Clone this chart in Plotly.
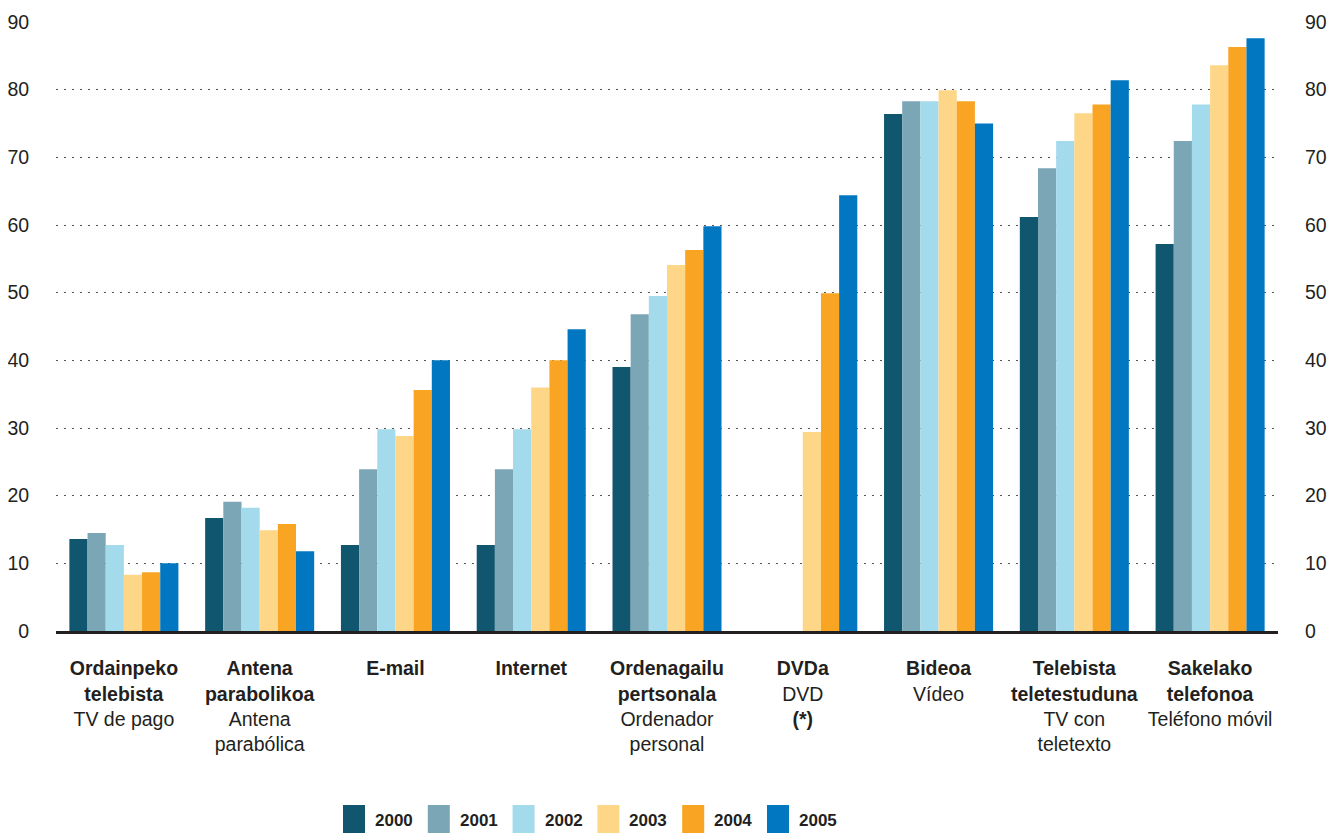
import plotly.graph_objects as go

categories = ["Ordainpeko telebista", "Antena parabolikoa", "E-mail", "Internet",
              "Ordenagailu pertsonala", "DVDa", "Bideoa", "Telebista teletestuduna",
              "Sakelako telefonoa"]
tick_labels = [
    "<b>Ordainpeko</b><br><b>telebista</b><br>TV de pago",
    "<b>Antena</b><br><b>parabolikoa</b><br>Antena<br>parabólica",
    "<b>E-mail</b>",
    "<b>Internet</b>",
    "<b>Ordenagailu</b><br><b>pertsonala</b><br>Ordenador<br>personal",
    "<b>DVDa</b><br>DVD<br><b>(*)</b>",
    "<b>Bideoa</b><br>Vídeo",
    "<b>Telebista</b><br><b>teletestuduna</b><br>TV con<br>teletexto",
    "<b>Sakelako</b><br><b>telefonoa</b><br>Teléfono móvil",
]
years = ["2000", "2001", "2002", "2003", "2004", "2005"]
colors = ["#10566F", "#7AA6B6", "#A3DAEC", "#FED687", "#F9A423", "#0077C0"]

v2000 = [13.6, 16.7, 12.7, 12.7, 39.0, None, 76.4, 61.2, 57.2]
v2001 = [14.5, 19.1, 23.9, 23.9, 46.8, None, 78.3, 68.4, 72.4]
v2002 = [12.7, 18.2, 29.8, 29.8, 49.5, None, 78.3, 72.4, 77.8]
v2003 = [8.3, 14.9, 28.8, 36.0, 54.1, 29.4, 79.9, 76.5, 83.6]
v2004 = [8.7, 15.8, 35.6, 40.0, 56.3, 49.9, 78.3, 77.8, 86.3]
v2005 = [10.0, 11.8, 40.0, 44.6, 59.8, 64.4, 75.0, 81.4, 87.6]
series = [v2000, v2001, v2002, v2003, v2004, v2005]

y_ticks = [0, 10, 20, 30, 40, 50, 60, 70, 80, 90]

FONT = "Liberation Sans, Arial, sans-serif"
TXT = "#231F20"

fig = go.Figure()
for yr, col, vals in zip(years, colors, series):
    fig.add_trace(go.Bar(x=categories, y=vals, name=yr, marker_color=col,
                         marker_line_width=0, showlegend=False))
# invisible trace to anchor the right axis
fig.add_trace(go.Scatter(x=categories, y=v2005, yaxis="y2", mode="markers",
                         marker_opacity=0, showlegend=False, hoverinfo="skip"))

# page body has an 8px margin, so the figure is offset by 8px
OFF = 8
W, H = 1340 - OFF, 833 - OFF
L, R, T, B = 56 - OFF, 62, 22 - OFF, 202
pw, ph = W - L - R, H - T - B

def px(xp):
    return (xp - OFF - L) / pw

def py(yp):
    return (H - B - (yp - OFF)) / ph

shapes = []
annotations = []
x_start, step = 343, 84.8
for i, (yr, col) in enumerate(zip(years, colors)):
    x0 = x_start + i * step
    shapes.append(dict(type="rect", xref="paper", yref="paper",
                       x0=px(x0), x1=px(x0 + 22), y0=py(805), y1=py(833),
                       fillcolor=col, line_width=0))
    annotations.append(dict(xref="paper", yref="paper", x=px(x0 + 30), y=py(820),
                            text="<b>" + yr + "</b>", showarrow=False,
                            xanchor="left", yanchor="middle",
                            font=dict(family=FONT, size=17, color=TXT)))

fig.update_layout(
    width=W, height=H,
    margin=dict(l=L, r=R, t=T, b=B, pad=0, autoexpand=False),
    paper_bgcolor="white", plot_bgcolor="white",
    barmode="group", bargap=0.197, bargroupgap=0,
    font=dict(family=FONT, color=TXT, size=19),
    shapes=shapes, annotations=annotations,
    xaxis=dict(tickmode="array", tickvals=categories, ticktext=tick_labels,
               tickangle=0, automargin=False,
               showline=True, linecolor=TXT, linewidth=3,
               ticks="outside", ticklen=18, tickcolor="rgba(0,0,0,0)",
               tickfont=dict(family=FONT, size=19.5, color=TXT),
               showgrid=False),
    yaxis=dict(range=[0, 90], tickvals=y_ticks, showgrid=True, automargin=False,
               gridcolor="#555555", gridwidth=1, griddash="2px,6px",
               zeroline=False, showline=False,
               ticks="outside", ticklen=22, tickcolor="rgba(0,0,0,0)",
               tickfont=dict(family=FONT, size=19.5, color=TXT)),
    yaxis2=dict(range=[0, 90], tickvals=y_ticks, overlaying="y", side="right",
                anchor="x", showgrid=False, zeroline=False, showline=False,
                automargin=False,
                ticks="outside", ticklen=22, tickcolor="rgba(0,0,0,0)",
                tickfont=dict(family=FONT, size=19.5, color=TXT)),
)

fig.write_html("out.html")
